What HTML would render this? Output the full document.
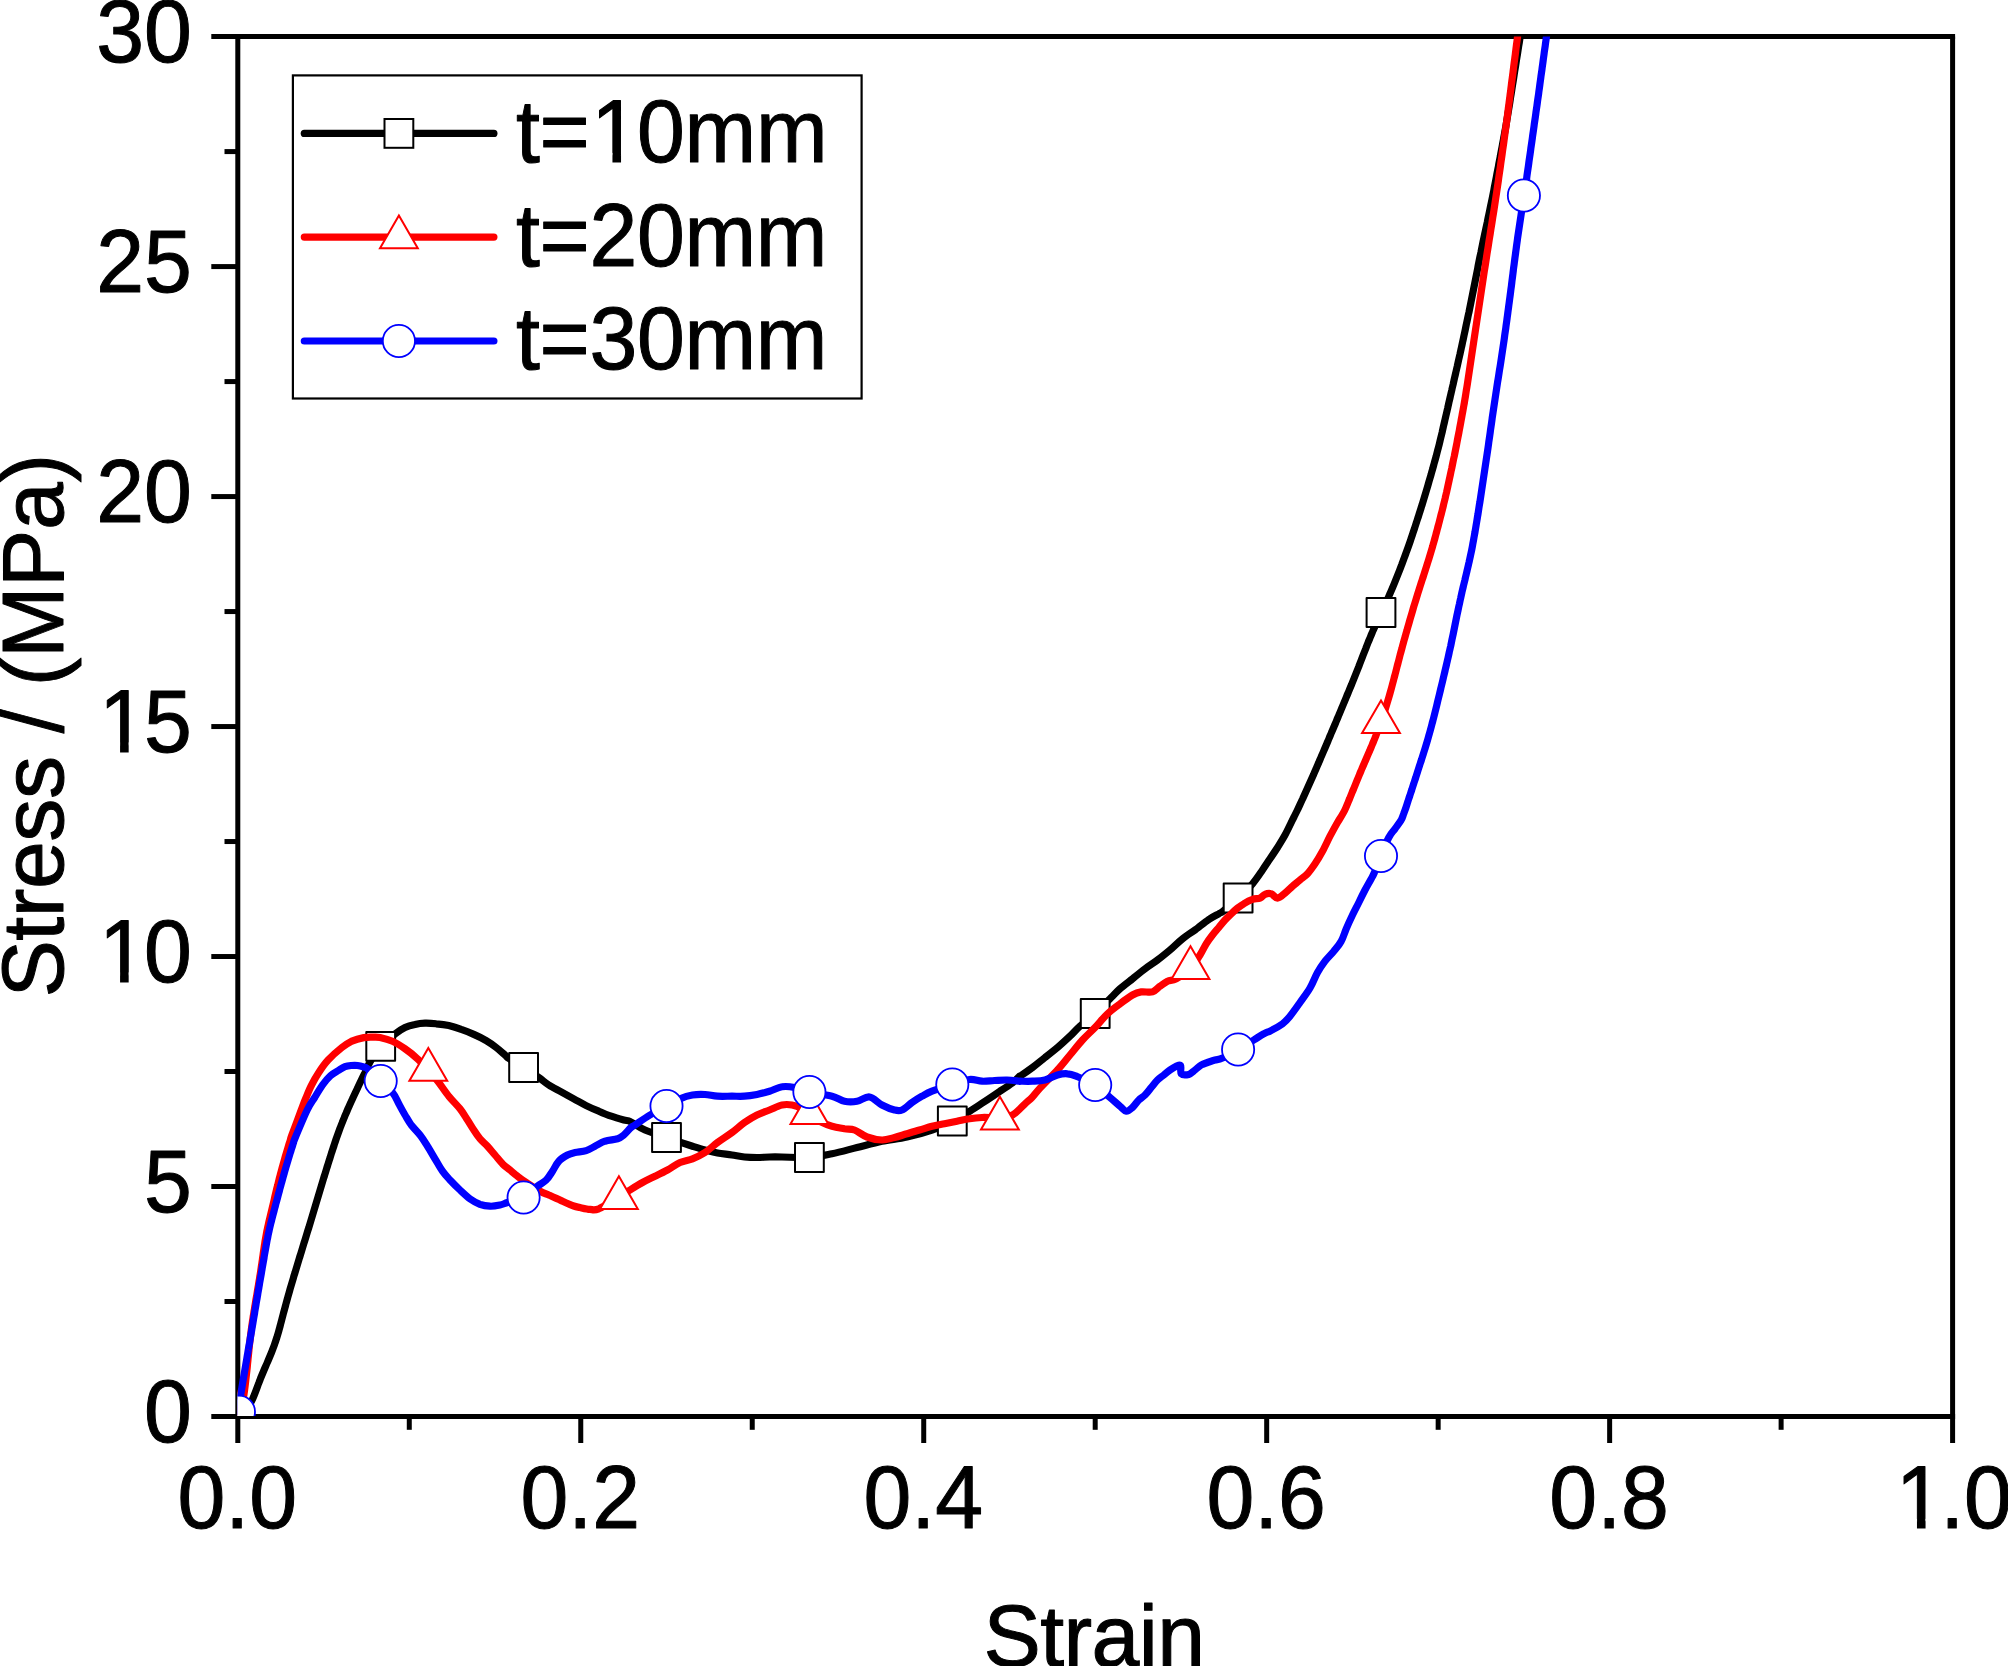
<!DOCTYPE html>
<html lang="en">
<head>
<meta charset="utf-8">
<title>Stress-Strain</title>
<style>
html,body{margin:0;padding:0;background:#fff;}
body{width:2008px;height:1666px;overflow:hidden;}
svg{display:block;}
text{font-family:"Liberation Sans",sans-serif;font-size:86px;fill:#000;stroke:#000;stroke-width:1.0px;stroke-linejoin:round;}
</style>
</head>
<body>
<svg width="2008" height="1666" viewBox="0 0 2008 1666">
<rect x="0" y="0" width="2008" height="1666" fill="#fff"/>
<defs><clipPath id="plot"><rect x="237.6" y="36.6" width="1715.0" height="1379.4"/></clipPath></defs>

<g stroke="#000" stroke-width="5.0" fill="none" stroke-linecap="butt">
<line x1="211.3" y1="36.6" x2="1955.1" y2="36.6"/>
<line x1="211.3" y1="1416.5" x2="1955.1" y2="1416.5"/>
<line x1="237.8" y1="36.6" x2="237.8" y2="1443.0"/>
<line x1="1952.6" y1="36.6" x2="1952.6" y2="1443.0"/>
<line x1="409.28" y1="1416.5" x2="409.28" y2="1429.8"/>
<line x1="580.76" y1="1416.5" x2="580.76" y2="1443.0"/>
<line x1="752.24" y1="1416.5" x2="752.24" y2="1429.8"/>
<line x1="923.72" y1="1416.5" x2="923.72" y2="1443.0"/>
<line x1="1095.20" y1="1416.5" x2="1095.20" y2="1429.8"/>
<line x1="1266.68" y1="1416.5" x2="1266.68" y2="1443.0"/>
<line x1="1438.16" y1="1416.5" x2="1438.16" y2="1429.8"/>
<line x1="1609.64" y1="1416.5" x2="1609.64" y2="1443.0"/>
<line x1="1781.12" y1="1416.5" x2="1781.12" y2="1429.8"/>
<line x1="224.5" y1="1301.51" x2="237.8" y2="1301.51"/>
<line x1="211.3" y1="1186.52" x2="237.8" y2="1186.52"/>
<line x1="224.5" y1="1071.52" x2="237.8" y2="1071.52"/>
<line x1="211.3" y1="956.53" x2="237.8" y2="956.53"/>
<line x1="224.5" y1="841.54" x2="237.8" y2="841.54"/>
<line x1="211.3" y1="726.55" x2="237.8" y2="726.55"/>
<line x1="224.5" y1="611.56" x2="237.8" y2="611.56"/>
<line x1="211.3" y1="496.57" x2="237.8" y2="496.57"/>
<line x1="224.5" y1="381.58" x2="237.8" y2="381.58"/>
<line x1="211.3" y1="266.58" x2="237.8" y2="266.58"/>
<line x1="224.5" y1="151.59" x2="237.8" y2="151.59"/>
</g>
<g clip-path="url(#plot)" fill="none" stroke-linejoin="round" stroke-linecap="round">
<path d="M242.5,1416.0 C244.1,1413.4 249.2,1406.0 251.9,1400.5 C254.6,1395.0 257.3,1386.8 258.8,1383.0 C260.2,1379.2 260.1,1379.7 260.7,1378.0 C261.4,1376.3 262.1,1374.7 262.8,1373.0 C263.5,1371.3 264.2,1369.7 264.9,1368.0 C265.6,1366.3 266.4,1364.7 267.1,1363.0 C267.8,1361.3 268.5,1359.7 269.2,1358.0 C269.9,1356.3 270.6,1354.7 271.3,1353.0 C272.0,1351.3 272.6,1349.7 273.2,1348.0 C273.9,1346.3 274.5,1344.7 275.0,1343.0 C275.6,1341.3 276.1,1339.7 276.7,1338.0 C277.2,1336.3 277.7,1334.7 278.2,1333.0 C278.7,1331.3 279.1,1329.7 279.6,1328.0 C280.0,1326.3 280.5,1324.7 280.9,1323.0 C281.4,1321.3 281.8,1319.7 282.2,1318.0 C282.7,1316.3 283.1,1314.7 283.5,1313.0 C284.0,1311.3 284.4,1309.7 284.9,1308.0 C285.3,1306.3 285.8,1304.7 286.2,1303.0 C286.7,1301.3 287.1,1299.7 287.6,1298.0 C288.0,1296.3 288.5,1294.7 289.0,1293.0 C289.5,1291.3 289.9,1289.7 290.4,1288.0 C290.9,1286.3 291.4,1284.7 291.9,1283.0 C292.4,1281.3 292.9,1279.7 293.4,1278.0 C293.8,1276.3 294.3,1274.7 294.9,1273.0 C295.4,1271.3 295.9,1269.7 296.4,1268.0 C296.9,1266.3 297.4,1264.7 297.9,1263.0 C298.4,1261.3 298.9,1259.7 299.4,1258.0 C299.9,1256.3 300.5,1254.7 301.0,1253.0 C301.5,1251.3 302.0,1249.7 302.5,1248.0 C303.0,1246.3 303.5,1244.7 304.0,1243.0 C304.6,1241.3 305.1,1239.7 305.6,1238.0 C306.1,1236.3 306.6,1234.7 307.1,1233.0 C307.6,1231.3 308.1,1229.7 308.7,1228.0 C309.2,1226.3 309.7,1224.7 310.2,1223.0 C310.7,1221.3 311.2,1219.7 311.7,1218.0 C312.2,1216.3 312.7,1214.7 313.2,1213.0 C313.7,1211.3 314.2,1209.7 314.7,1208.0 C315.2,1206.3 315.7,1204.7 316.2,1203.0 C316.7,1201.3 317.2,1199.7 317.7,1198.0 C318.2,1196.3 318.7,1194.7 319.2,1193.0 C319.7,1191.3 320.2,1189.7 320.7,1188.0 C321.2,1186.3 321.7,1184.7 322.2,1183.0 C322.7,1181.3 323.2,1179.7 323.7,1178.0 C324.2,1176.3 324.8,1174.7 325.3,1173.0 C325.8,1171.3 326.3,1169.7 326.8,1168.0 C327.3,1166.3 327.9,1164.7 328.4,1163.0 C328.9,1161.3 329.4,1159.7 330.0,1158.0 C330.5,1156.3 331.0,1154.7 331.5,1153.0 C332.1,1151.3 332.6,1149.7 333.2,1148.0 C333.7,1146.3 334.3,1144.7 334.8,1143.0 C335.4,1141.3 335.9,1139.7 336.5,1138.0 C337.1,1136.3 337.7,1134.7 338.3,1133.0 C338.9,1131.3 339.5,1129.7 340.1,1128.0 C340.8,1126.3 341.4,1124.7 342.1,1123.0 C342.7,1121.3 343.4,1119.7 344.1,1118.0 C344.7,1116.3 345.4,1114.7 346.2,1113.0 C346.9,1111.3 347.6,1109.7 348.3,1108.0 C349.1,1106.3 349.8,1104.7 350.6,1103.0 C351.3,1101.3 352.1,1099.7 352.9,1098.0 C353.6,1096.3 354.4,1094.7 355.2,1093.0 C356.0,1091.3 356.8,1089.7 357.6,1088.0 C358.3,1086.3 359.1,1084.7 359.9,1083.0 C360.7,1081.3 361.5,1079.7 362.3,1078.0 C363.1,1076.3 363.6,1075.5 364.8,1073.0 C365.9,1070.5 366.8,1067.6 369.4,1063.1 C372.0,1058.6 375.8,1051.2 380.2,1046.2 C384.7,1041.3 392.1,1036.2 396.2,1033.1 C400.4,1030.0 401.9,1029.0 405.0,1027.5 C408.1,1026.0 411.7,1025.1 415.0,1024.4 C418.3,1023.6 421.5,1023.2 425.0,1023.1 C428.5,1023.0 432.3,1023.3 436.2,1023.8 C440.2,1024.2 444.6,1024.7 448.8,1025.6 C452.9,1026.6 457.1,1027.9 461.2,1029.4 C465.4,1030.8 469.6,1032.5 473.8,1034.4 C477.9,1036.2 482.5,1038.4 486.2,1040.6 C490.0,1042.8 493.1,1045.1 496.2,1047.5 C499.4,1049.9 502.8,1053.1 505.0,1055.0 C507.2,1056.9 506.2,1056.7 509.4,1058.8 C512.5,1060.8 518.9,1064.4 523.8,1067.5 C528.6,1070.6 534.6,1074.6 538.8,1077.5 C542.9,1080.4 545.0,1082.6 548.8,1085.0 C552.5,1087.4 557.1,1089.6 561.2,1091.9 C565.4,1094.2 569.6,1096.5 573.8,1098.8 C577.9,1101.0 582.1,1103.5 586.2,1105.6 C590.4,1107.7 594.6,1109.5 598.8,1111.2 C602.9,1113.0 607.1,1114.8 611.2,1116.2 C615.4,1117.7 620.5,1119.1 623.8,1120.0 C627.0,1120.9 627.5,1120.2 631.0,1121.9 C634.5,1123.5 639.1,1127.4 645.0,1130.0 C650.9,1132.6 658.3,1134.8 666.2,1137.5 C674.2,1140.2 686.0,1144.2 692.5,1146.2 C699.0,1148.3 700.8,1148.9 705.0,1150.0 C709.2,1151.1 713.0,1152.2 717.5,1153.0 C722.0,1153.8 727.5,1154.3 732.0,1155.0 C736.5,1155.7 740.3,1156.6 744.5,1157.0 C748.7,1157.4 752.8,1157.5 757.0,1157.5 C761.2,1157.5 765.3,1157.1 769.5,1157.0 C773.7,1156.9 775.4,1156.9 782.0,1157.0 C788.6,1157.1 800.7,1158.0 809.0,1157.5 C817.3,1157.0 824.0,1155.4 832.0,1153.8 C840.0,1152.1 848.7,1149.6 857.0,1147.5 C865.3,1145.4 873.7,1143.0 882.0,1141.2 C890.3,1139.5 898.7,1138.9 907.0,1137.0 C915.3,1135.1 924.5,1132.6 932.0,1130.0 C939.5,1127.4 946.1,1124.2 952.0,1121.2 C957.9,1118.3 962.6,1115.4 967.5,1112.5 C972.4,1109.6 975.8,1107.3 981.2,1103.8 C986.7,1100.2 994.8,1094.8 1000.0,1091.2 C1005.2,1087.8 1009.2,1085.2 1012.5,1082.8 C1015.8,1080.2 1018.2,1077.3 1019.5,1076.2 C1020.8,1075.2 1017.8,1077.7 1020.0,1076.2 C1022.2,1074.8 1028.3,1070.6 1032.5,1067.5 C1036.7,1064.4 1040.8,1060.8 1045.0,1057.5 C1049.2,1054.2 1053.3,1051.0 1057.5,1047.5 C1061.7,1044.0 1066.2,1039.8 1070.0,1036.2 C1073.8,1032.7 1075.8,1030.0 1080.0,1026.2 C1084.2,1022.5 1089.8,1018.5 1095.0,1013.8 C1100.2,1009.0 1107.1,1001.7 1111.2,997.5 C1115.4,993.3 1116.5,991.9 1120.0,988.8 C1123.5,985.6 1128.3,982.1 1132.5,978.8 C1136.7,975.4 1140.8,971.9 1145.0,968.8 C1149.2,965.6 1153.3,963.1 1157.5,960.0 C1161.7,956.9 1165.8,953.5 1170.0,950.0 C1174.2,946.5 1178.3,942.1 1182.5,938.8 C1186.7,935.4 1192.1,932.1 1195.0,930.0 C1197.9,927.9 1197.5,928.1 1200.0,926.2 C1202.5,924.4 1206.9,920.8 1210.0,918.8 C1213.1,916.7 1216.5,915.1 1218.8,913.8 C1221.0,912.4 1220.6,913.2 1223.8,910.6 C1226.9,908.1 1233.1,903.0 1237.9,898.5 C1242.7,894.0 1248.4,888.5 1252.5,883.8 C1256.6,879.0 1259.6,874.2 1262.5,870.0 C1265.4,865.8 1267.5,862.5 1270.0,858.8 C1272.5,855.0 1275.0,851.5 1277.5,847.5 C1280.0,843.5 1282.7,839.2 1285.0,835.0 C1287.3,830.8 1289.7,825.6 1291.2,822.5 C1292.8,819.4 1293.3,818.5 1294.2,816.5 C1295.2,814.5 1296.2,812.5 1297.2,810.5 C1298.2,808.5 1299.1,806.5 1300.0,804.5 C1300.9,802.5 1301.8,800.5 1302.8,798.5 C1303.7,796.5 1304.6,794.5 1305.5,792.5 C1306.4,790.5 1307.3,788.5 1308.2,786.5 C1309.1,784.5 1310.0,782.5 1310.9,780.5 C1311.8,778.5 1312.7,776.5 1313.6,774.5 C1314.4,772.5 1315.3,770.5 1316.2,768.5 C1317.0,766.5 1317.9,764.5 1318.8,762.5 C1319.6,760.5 1320.5,758.5 1321.3,756.5 C1322.2,754.5 1323.1,752.5 1323.9,750.5 C1324.8,748.5 1325.6,746.5 1326.5,744.5 C1327.3,742.5 1328.2,740.5 1329.0,738.5 C1329.8,736.5 1330.7,734.5 1331.5,732.5 C1332.4,730.5 1333.2,728.5 1334.1,726.5 C1334.9,724.5 1335.8,722.5 1336.6,720.5 C1337.4,718.5 1338.3,716.5 1339.1,714.5 C1340.0,712.5 1340.8,710.5 1341.6,708.5 C1342.5,706.5 1343.3,704.5 1344.1,702.5 C1345.0,700.5 1345.8,698.5 1346.6,696.5 C1347.4,694.5 1348.3,692.5 1349.1,690.5 C1349.9,688.5 1350.7,686.5 1351.6,684.5 C1352.4,682.5 1353.2,680.5 1354.0,678.5 C1354.8,676.5 1355.6,674.5 1356.4,672.5 C1357.2,670.5 1358.0,668.5 1358.8,666.5 C1359.5,664.5 1360.3,662.5 1361.1,660.5 C1361.9,658.5 1362.6,656.5 1363.4,654.5 C1364.2,652.5 1365.0,650.5 1365.8,648.5 C1366.5,646.5 1367.3,644.5 1368.1,642.5 C1368.9,640.5 1369.8,638.5 1370.6,636.5 C1371.4,634.5 1372.3,632.5 1373.1,630.5 C1374.0,628.5 1374.9,626.5 1375.8,624.5 C1376.7,622.5 1377.6,620.5 1378.6,618.5 C1379.5,616.5 1380.4,614.5 1381.4,612.5 C1382.3,610.5 1383.2,608.5 1384.2,606.5 C1385.1,604.5 1386.0,602.5 1386.9,600.5 C1387.9,598.5 1388.8,596.5 1389.6,594.5 C1390.5,592.5 1391.4,590.5 1392.2,588.5 C1393.1,586.5 1393.9,584.5 1394.7,582.5 C1395.5,580.5 1396.3,578.5 1397.1,576.5 C1397.9,574.5 1398.7,572.5 1399.5,570.5 C1400.3,568.5 1401.0,566.5 1401.8,564.5 C1402.5,562.5 1403.3,560.5 1404.0,558.5 C1404.8,556.5 1405.5,554.5 1406.2,552.5 C1407.0,550.5 1407.7,548.5 1408.4,546.5 C1409.1,544.5 1409.8,542.5 1410.5,540.5 C1411.1,538.5 1411.8,536.5 1412.5,534.5 C1413.1,532.5 1413.8,530.5 1414.5,528.5 C1415.1,526.5 1415.8,524.5 1416.4,522.5 C1417.1,520.5 1417.7,518.5 1418.4,516.5 C1419.0,514.5 1419.6,512.5 1420.3,510.5 C1420.9,508.5 1421.5,506.5 1422.2,504.5 C1422.8,502.5 1423.4,500.5 1424.0,498.5 C1424.6,496.5 1425.2,494.5 1425.8,492.5 C1426.4,490.5 1427.0,488.5 1427.6,486.5 C1428.2,484.5 1428.7,482.5 1429.3,480.5 C1429.9,478.5 1430.5,476.5 1431.1,474.5 C1431.6,472.5 1432.2,470.5 1432.8,468.5 C1433.3,466.5 1433.9,464.5 1434.4,462.5 C1435.0,460.5 1435.5,458.5 1436.1,456.5 C1436.6,454.5 1437.1,452.5 1437.6,450.5 C1438.2,448.5 1438.7,446.5 1439.2,444.5 C1439.7,442.5 1440.1,440.5 1440.6,438.5 C1441.1,436.5 1441.6,434.5 1442.1,432.5 C1442.5,430.5 1443.0,428.5 1443.4,426.5 C1443.9,424.5 1444.4,422.5 1444.8,420.5 C1445.3,418.5 1445.7,416.5 1446.2,414.5 C1446.7,412.5 1447.1,410.5 1447.6,408.5 C1448.0,406.5 1448.5,404.5 1448.9,402.5 C1449.4,400.5 1449.9,398.5 1450.3,396.5 C1450.8,394.5 1451.2,392.5 1451.7,390.5 C1452.1,388.5 1452.6,386.5 1453.1,384.5 C1453.5,382.5 1454.0,380.5 1454.4,378.5 C1454.9,376.5 1455.4,374.5 1455.8,372.5 C1456.3,370.5 1456.7,368.5 1457.2,366.5 C1457.6,364.5 1458.1,362.5 1458.5,360.5 C1459.0,358.5 1459.4,356.5 1459.9,354.5 C1460.3,352.5 1460.8,350.5 1461.2,348.5 C1461.7,346.5 1462.1,344.5 1462.5,342.5 C1463.0,340.5 1463.4,338.5 1463.8,336.5 C1464.2,334.5 1464.7,332.5 1465.1,330.5 C1465.5,328.5 1465.9,326.5 1466.3,324.5 C1466.8,322.5 1467.2,320.5 1467.6,318.5 C1468.0,316.5 1468.4,314.5 1468.9,312.5 C1469.3,310.5 1469.7,308.5 1470.1,306.5 C1470.5,304.5 1470.9,302.5 1471.3,300.5 C1471.7,298.5 1472.1,296.5 1472.5,294.5 C1472.9,292.5 1473.3,290.5 1473.7,288.5 C1474.1,286.5 1474.5,284.5 1474.9,282.5 C1475.3,280.5 1475.7,278.5 1476.1,276.5 C1476.5,274.5 1476.9,272.5 1477.3,270.5 C1477.7,268.5 1478.0,266.5 1478.4,264.5 C1478.8,262.5 1479.2,260.5 1479.6,258.5 C1480.0,256.5 1480.4,254.5 1480.9,252.5 C1481.3,250.5 1481.7,248.5 1482.1,246.5 C1482.5,244.5 1482.9,242.5 1483.3,240.5 C1483.8,238.5 1484.2,236.5 1484.6,234.5 C1485.0,232.5 1485.5,230.5 1485.9,228.5 C1486.3,226.5 1486.7,224.5 1487.2,222.5 C1487.6,220.5 1488.0,218.5 1488.4,216.5 C1488.9,214.5 1489.3,212.5 1489.7,210.5 C1490.1,208.5 1490.5,206.5 1490.9,204.5 C1491.4,202.5 1491.8,200.5 1492.2,198.5 C1492.6,196.5 1493.0,194.5 1493.4,192.5 C1493.8,190.5 1494.1,188.5 1494.5,186.5 C1494.9,184.5 1495.3,182.5 1495.7,180.5 C1496.1,178.5 1496.5,176.5 1496.8,174.5 C1497.2,172.5 1497.6,170.5 1498.0,168.5 C1498.4,166.5 1498.7,164.5 1499.1,162.5 C1499.5,160.5 1499.9,158.5 1500.3,156.5 C1500.6,154.5 1501.0,152.5 1501.4,150.5 C1501.8,148.5 1502.2,146.5 1502.5,144.5 C1502.9,142.5 1503.3,140.5 1503.6,138.5 C1504.0,136.5 1504.4,134.5 1504.7,132.5 C1505.1,130.5 1505.5,128.5 1505.8,126.5 C1506.2,124.5 1506.5,122.5 1506.8,120.5 C1507.2,118.5 1507.5,116.5 1507.8,114.5 C1508.2,112.5 1508.5,110.5 1508.8,108.5 C1509.2,106.5 1509.5,104.5 1509.8,102.5 C1510.1,100.5 1510.4,98.5 1510.7,96.5 C1511.1,94.5 1511.4,92.5 1511.7,90.5 C1512.0,88.5 1512.3,86.5 1512.6,84.5 C1513.0,82.5 1513.3,80.5 1513.6,78.5 C1513.9,76.5 1514.2,74.5 1514.5,72.5 C1514.8,70.5 1515.2,68.5 1515.5,66.5 C1515.8,64.5 1516.1,62.5 1516.4,60.5 C1516.7,58.5 1517.1,56.5 1517.4,54.5 C1517.7,52.5 1518.0,50.5 1518.3,48.5 C1518.6,46.5 1518.9,44.5 1519.3,42.5 C1519.6,40.5 1519.9,38.5 1520.2,36.5 C1520.5,34.5 1520.8,32.5 1521.2,30.5 C1521.5,28.5 1521.9,25.5 1522.1,24.5" stroke="#000" stroke-width="7.2"/>
<g><rect x="222.9" y="1399.1" width="28.8" height="28.8" fill="#fff" stroke="#000" stroke-width="2.0"/><rect x="366.3" y="1032.0" width="28.8" height="28.8" fill="#fff" stroke="#000" stroke-width="2.0"/><rect x="509.2" y="1053.1" width="28.8" height="28.8" fill="#fff" stroke="#000" stroke-width="2.0"/><rect x="652.1" y="1123.1" width="28.8" height="28.8" fill="#fff" stroke="#000" stroke-width="2.0"/><rect x="795.0" y="1143.1" width="28.8" height="28.8" fill="#fff" stroke="#000" stroke-width="2.0"/><rect x="937.9" y="1106.6" width="28.8" height="28.8" fill="#fff" stroke="#000" stroke-width="2.0"/><rect x="1080.8" y="999.1" width="28.8" height="28.8" fill="#fff" stroke="#000" stroke-width="2.0"/><rect x="1223.7" y="883.6" width="28.8" height="28.8" fill="#fff" stroke="#000" stroke-width="2.0"/><rect x="1366.6" y="598.1" width="28.8" height="28.8" fill="#fff" stroke="#000" stroke-width="2.0"/></g>
<path d="M239.4,1413.0 C240.1,1410.1 242.5,1402.6 243.8,1395.5 C245.0,1388.4 246.3,1375.5 246.9,1370.5 C247.5,1365.5 247.2,1367.2 247.4,1365.5 C247.5,1363.8 247.7,1362.2 247.9,1360.5 C248.0,1358.8 248.2,1357.2 248.4,1355.5 C248.6,1353.8 248.7,1352.2 248.9,1350.5 C249.1,1348.8 249.2,1347.2 249.4,1345.5 C249.6,1343.8 249.8,1342.2 250.0,1340.5 C250.2,1338.8 250.4,1337.2 250.6,1335.5 C250.8,1333.8 251.0,1332.2 251.2,1330.5 C251.4,1328.8 251.7,1327.2 251.9,1325.5 C252.1,1323.8 252.4,1322.2 252.6,1320.5 C252.9,1318.8 253.1,1317.2 253.4,1315.5 C253.7,1313.8 253.9,1312.2 254.2,1310.5 C254.5,1308.8 254.7,1307.2 255.0,1305.5 C255.3,1303.8 255.6,1302.2 255.8,1300.5 C256.1,1298.8 256.4,1297.2 256.7,1295.5 C257.0,1293.8 257.3,1292.2 257.5,1290.5 C257.8,1288.8 258.1,1287.2 258.4,1285.5 C258.6,1283.8 258.9,1282.2 259.2,1280.5 C259.5,1278.8 259.7,1277.2 260.0,1275.5 C260.3,1273.8 260.5,1272.2 260.8,1270.5 C261.0,1268.8 261.3,1267.2 261.5,1265.5 C261.8,1263.8 262.0,1262.2 262.3,1260.5 C262.5,1258.8 262.7,1257.2 263.0,1255.5 C263.2,1253.8 263.4,1252.2 263.7,1250.5 C263.9,1248.8 264.2,1247.2 264.4,1245.5 C264.7,1243.8 264.9,1242.2 265.2,1240.5 C265.5,1238.8 265.8,1237.2 266.1,1235.5 C266.4,1233.8 266.7,1232.2 267.0,1230.5 C267.4,1228.8 267.7,1227.2 268.1,1225.5 C268.5,1223.8 268.8,1222.2 269.2,1220.5 C269.6,1218.8 270.0,1217.2 270.4,1215.5 C270.8,1213.8 271.2,1212.2 271.6,1210.5 C272.0,1208.8 272.4,1207.2 272.8,1205.5 C273.2,1203.8 273.6,1202.2 274.0,1200.5 C274.4,1198.8 274.7,1197.2 275.1,1195.5 C275.5,1193.8 275.9,1192.2 276.3,1190.5 C276.7,1188.8 277.1,1187.2 277.6,1185.5 C278.0,1183.8 278.4,1182.2 278.8,1180.5 C279.2,1178.8 279.6,1177.2 280.1,1175.5 C280.5,1173.8 281.0,1172.2 281.4,1170.5 C281.9,1168.8 282.3,1167.2 282.8,1165.5 C283.2,1163.8 283.7,1162.2 284.2,1160.5 C284.7,1158.8 285.1,1157.2 285.6,1155.5 C286.1,1153.8 286.6,1152.2 287.1,1150.5 C287.6,1148.8 288.1,1147.2 288.6,1145.5 C289.1,1143.8 289.7,1142.2 290.2,1140.5 C290.7,1138.8 289.9,1140.6 291.7,1135.5 C293.6,1130.4 298.9,1116.3 301.2,1110.0 C303.6,1103.7 304.3,1101.7 306.1,1097.5 C307.8,1093.3 309.4,1089.2 311.6,1085.0 C313.7,1080.8 316.0,1076.7 318.8,1072.5 C321.5,1068.3 324.2,1064.2 328.1,1060.0 C332.0,1055.8 338.0,1050.6 341.9,1047.5 C345.8,1044.4 347.6,1043.1 351.2,1041.4 C354.9,1039.8 360.1,1038.3 363.8,1037.6 C367.4,1036.9 370.4,1037.1 373.1,1037.1 C375.8,1037.1 376.8,1036.8 380.0,1037.5 C383.2,1038.2 388.3,1039.4 392.5,1041.2 C396.7,1043.1 400.8,1045.8 405.0,1048.8 C409.2,1051.7 413.6,1055.2 417.5,1058.8 C421.4,1062.3 425.0,1066.0 428.5,1070.0 C432.0,1074.0 435.4,1078.1 438.8,1082.5 C442.1,1086.9 445.2,1091.9 448.8,1096.2 C452.3,1100.6 456.9,1104.8 460.0,1108.8 C463.1,1112.7 465.2,1116.5 467.5,1120.0 C469.8,1123.5 471.7,1126.9 473.8,1130.0 C475.8,1133.1 477.7,1136.0 480.0,1138.8 C482.3,1141.5 485.0,1143.5 487.5,1146.2 C490.0,1149.0 492.5,1152.1 495.0,1155.0 C497.5,1157.9 500.0,1161.2 502.5,1163.8 C505.0,1166.2 507.5,1167.9 510.0,1170.0 C512.5,1172.1 515.4,1174.6 517.5,1176.2 C519.6,1177.9 518.8,1177.5 522.5,1180.0 C526.2,1182.5 535.6,1188.8 540.0,1191.2 C544.4,1193.8 545.2,1193.4 548.8,1195.0 C552.3,1196.6 557.1,1198.8 561.2,1200.6 C565.4,1202.5 570.6,1204.9 573.8,1206.0 C576.9,1207.1 577.3,1206.9 580.0,1207.5 C582.7,1208.1 586.9,1209.2 590.0,1209.4 C593.1,1209.6 594.0,1210.7 598.8,1208.8 C603.5,1206.8 613.5,1200.6 618.8,1197.5 C624.0,1194.4 626.0,1192.5 630.0,1190.0 C634.0,1187.5 638.3,1184.8 642.5,1182.5 C646.7,1180.2 650.8,1178.3 655.0,1176.2 C659.2,1174.2 663.3,1172.3 667.5,1170.0 C671.7,1167.7 675.8,1164.4 680.0,1162.5 C684.2,1160.6 688.3,1160.4 692.5,1158.8 C696.7,1157.1 700.8,1155.2 705.0,1152.5 C709.2,1149.8 713.0,1145.8 717.5,1142.5 C722.0,1139.2 727.5,1135.8 732.0,1132.5 C736.5,1129.2 740.3,1125.4 744.5,1122.5 C748.7,1119.6 752.8,1117.1 757.0,1115.0 C761.2,1112.9 765.3,1111.7 769.5,1110.0 C773.7,1108.3 778.2,1105.8 782.0,1105.0 C785.8,1104.2 788.7,1104.4 792.0,1105.0 C795.3,1105.6 799.2,1107.1 802.0,1108.8 C804.8,1110.4 806.1,1112.9 809.0,1115.0 C811.9,1117.1 815.7,1119.4 819.5,1121.2 C823.3,1123.1 827.8,1125.0 832.0,1126.2 C836.2,1127.5 840.8,1128.1 844.5,1128.8 C848.2,1129.4 850.8,1128.6 854.5,1130.0 C858.2,1131.4 862.4,1135.3 867.0,1137.0 C871.6,1138.7 877.4,1139.9 882.0,1140.0 C886.6,1140.1 890.3,1138.5 894.5,1137.5 C898.7,1136.5 902.8,1135.0 907.0,1133.8 C911.2,1132.5 915.3,1131.2 919.5,1130.0 C923.7,1128.8 927.8,1127.3 932.0,1126.2 C936.2,1125.2 940.3,1124.6 944.5,1123.8 C948.7,1122.9 952.8,1122.1 957.0,1121.2 C961.2,1120.4 965.3,1119.4 969.5,1118.8 C973.7,1118.1 977.0,1117.7 982.0,1117.5 C987.0,1117.3 994.4,1117.9 999.5,1117.5 C1004.6,1117.1 1008.2,1117.3 1012.5,1115.0 C1016.8,1112.7 1021.8,1106.7 1025.0,1103.8 C1028.2,1100.8 1029.5,1100.1 1032.0,1097.5 C1034.5,1094.9 1035.8,1092.7 1040.0,1088.1 C1044.2,1083.5 1052.5,1075.5 1057.5,1070.0 C1062.5,1064.5 1065.8,1060.0 1070.0,1055.0 C1074.2,1050.0 1078.3,1044.6 1082.5,1040.0 C1086.7,1035.4 1090.8,1031.9 1095.0,1027.5 C1099.2,1023.1 1103.3,1017.7 1107.5,1013.8 C1111.7,1009.8 1115.8,1006.9 1120.0,1003.8 C1124.2,1000.6 1129.0,997.0 1132.5,995.0 C1136.0,993.0 1137.9,992.4 1141.2,991.9 C1144.6,991.4 1149.4,992.8 1152.5,991.9 C1155.6,990.9 1157.5,988.0 1160.0,986.2 C1162.5,984.5 1164.8,982.5 1167.5,981.2 C1170.2,980.0 1172.4,980.9 1176.2,978.8 C1180.1,976.6 1186.8,972.1 1190.8,968.1 C1194.7,964.2 1197.4,959.1 1200.0,955.0 C1202.6,950.9 1204.2,947.1 1206.2,943.8 C1208.3,940.4 1210.4,937.7 1212.5,935.0 C1214.6,932.3 1216.7,930.0 1218.8,927.5 C1220.8,925.0 1222.9,922.3 1225.0,920.0 C1227.1,917.7 1229.2,915.7 1231.2,913.8 C1233.3,911.8 1235.4,909.8 1237.5,908.1 C1239.6,906.5 1241.2,905.2 1243.8,903.8 C1246.2,902.3 1249.8,900.3 1252.5,899.4 C1255.2,898.4 1257.9,899.0 1260.0,898.1 C1262.1,897.3 1263.1,895.1 1265.0,894.4 C1266.9,893.6 1269.2,893.1 1271.2,893.8 C1273.3,894.4 1275.2,898.2 1277.5,898.1 C1279.8,898.0 1282.5,895.1 1285.0,893.1 C1287.5,891.1 1290.0,888.4 1292.5,886.2 C1295.0,884.1 1297.5,882.1 1300.0,880.0 C1302.5,877.9 1305.0,876.5 1307.5,873.8 C1310.0,871.0 1312.5,867.5 1315.0,863.8 C1317.5,860.0 1320.0,855.8 1322.5,851.2 C1325.0,846.7 1327.5,841.0 1330.0,836.2 C1332.5,831.5 1335.6,825.8 1337.5,822.5 C1339.4,819.2 1340.0,818.5 1341.2,816.5 C1342.4,814.5 1343.6,812.5 1344.6,810.5 C1345.6,808.5 1346.4,806.5 1347.2,804.5 C1348.1,802.5 1348.8,800.5 1349.7,798.5 C1350.5,796.5 1351.3,794.5 1352.1,792.5 C1352.9,790.5 1353.8,788.5 1354.6,786.5 C1355.4,784.5 1356.2,782.5 1357.0,780.5 C1357.9,778.5 1358.7,776.5 1359.5,774.5 C1360.3,772.5 1361.2,770.5 1362.0,768.5 C1362.9,766.5 1363.7,764.5 1364.6,762.5 C1365.5,760.5 1366.3,758.5 1367.2,756.5 C1368.0,754.5 1368.9,752.5 1369.8,750.5 C1370.6,748.5 1371.5,746.5 1372.3,744.5 C1373.1,742.5 1374.0,740.5 1374.8,738.5 C1375.6,736.5 1376.3,734.5 1377.1,732.5 C1377.9,730.5 1378.6,728.5 1379.4,726.5 C1380.1,724.5 1380.8,722.5 1381.5,720.5 C1382.2,718.5 1382.9,716.5 1383.5,714.5 C1384.2,712.5 1384.8,710.5 1385.5,708.5 C1386.1,706.5 1386.7,704.5 1387.3,702.5 C1387.9,700.5 1388.5,698.5 1389.1,696.5 C1389.7,694.5 1390.2,692.5 1390.8,690.5 C1391.4,688.5 1391.9,686.5 1392.4,684.5 C1393.0,682.5 1393.5,680.5 1394.0,678.5 C1394.5,676.5 1395.1,674.5 1395.6,672.5 C1396.1,670.5 1396.6,668.5 1397.1,666.5 C1397.6,664.5 1398.2,662.5 1398.7,660.5 C1399.2,658.5 1399.7,656.5 1400.2,654.5 C1400.8,652.5 1401.3,650.5 1401.9,648.5 C1402.4,646.5 1402.9,644.5 1403.5,642.5 C1404.0,640.5 1404.6,638.5 1405.2,636.5 C1405.7,634.5 1406.3,632.5 1406.9,630.5 C1407.4,628.5 1408.0,626.5 1408.6,624.5 C1409.2,622.5 1409.7,620.5 1410.3,618.5 C1410.9,616.5 1411.5,614.5 1412.1,612.5 C1412.7,610.5 1413.2,608.5 1413.8,606.5 C1414.4,604.5 1415.1,602.5 1415.7,600.5 C1416.3,598.5 1416.9,596.5 1417.5,594.5 C1418.1,592.5 1418.8,590.5 1419.4,588.5 C1420.0,586.5 1420.7,584.5 1421.3,582.5 C1422.0,580.5 1422.6,578.5 1423.3,576.5 C1423.9,574.5 1424.6,572.5 1425.2,570.5 C1425.8,568.5 1426.5,566.5 1427.1,564.5 C1427.7,562.5 1428.4,560.5 1429.0,558.5 C1429.6,556.5 1430.2,554.5 1430.8,552.5 C1431.4,550.5 1432.0,548.5 1432.6,546.5 C1433.1,544.5 1433.7,542.5 1434.3,540.5 C1434.8,538.5 1435.4,536.5 1435.9,534.5 C1436.4,532.5 1437.0,530.5 1437.5,528.5 C1438.0,526.5 1438.6,524.5 1439.1,522.5 C1439.6,520.5 1440.1,518.5 1440.6,516.5 C1441.1,514.5 1441.7,512.5 1442.2,510.5 C1442.7,508.5 1443.2,506.5 1443.6,504.5 C1444.1,502.5 1444.6,500.5 1445.1,498.5 C1445.5,496.5 1446.0,494.5 1446.5,492.5 C1446.9,490.5 1447.4,488.5 1447.8,486.5 C1448.2,484.5 1448.7,482.5 1449.1,480.5 C1449.5,478.5 1450.0,476.5 1450.4,474.5 C1450.8,472.5 1451.2,470.5 1451.7,468.5 C1452.1,466.5 1452.5,464.5 1452.9,462.5 C1453.3,460.5 1453.7,458.5 1454.2,456.5 C1454.6,454.5 1455.0,452.5 1455.4,450.5 C1455.8,448.5 1456.2,446.5 1456.6,444.5 C1457.0,442.5 1457.3,440.5 1457.7,438.5 C1458.1,436.5 1458.5,434.5 1458.9,432.5 C1459.3,430.5 1459.6,428.5 1460.0,426.5 C1460.4,424.5 1460.8,422.5 1461.1,420.5 C1461.5,418.5 1461.9,416.5 1462.2,414.5 C1462.6,412.5 1463.0,410.5 1463.3,408.5 C1463.7,406.5 1464.0,404.5 1464.4,402.5 C1464.7,400.5 1465.0,398.5 1465.4,396.5 C1465.7,394.5 1466.0,392.5 1466.3,390.5 C1466.7,388.5 1467.0,386.5 1467.3,384.5 C1467.6,382.5 1467.9,380.5 1468.2,378.5 C1468.5,376.5 1468.8,374.5 1469.1,372.5 C1469.4,370.5 1469.7,368.5 1470.0,366.5 C1470.3,364.5 1470.6,362.5 1470.9,360.5 C1471.2,358.5 1471.5,356.5 1471.8,354.5 C1472.1,352.5 1472.4,350.5 1472.7,348.5 C1473.0,346.5 1473.3,344.5 1473.6,342.5 C1473.9,340.5 1474.2,338.5 1474.5,336.5 C1474.8,334.5 1475.1,332.5 1475.4,330.5 C1475.7,328.5 1476.0,326.5 1476.3,324.5 C1476.6,322.5 1476.9,320.5 1477.2,318.5 C1477.5,316.5 1477.8,314.5 1478.1,312.5 C1478.4,310.5 1478.7,308.5 1479.0,306.5 C1479.3,304.5 1479.6,302.5 1479.9,300.5 C1480.2,298.5 1480.5,296.5 1480.8,294.5 C1481.1,292.5 1481.4,290.5 1481.7,288.5 C1482.0,286.5 1482.3,284.5 1482.6,282.5 C1482.9,280.5 1483.2,278.5 1483.5,276.5 C1483.8,274.5 1484.1,272.5 1484.4,270.5 C1484.8,268.5 1485.1,266.5 1485.4,264.5 C1485.7,262.5 1486.0,260.5 1486.3,258.5 C1486.6,256.5 1486.9,254.5 1487.2,252.5 C1487.6,250.5 1487.9,248.5 1488.2,246.5 C1488.5,244.5 1488.8,242.5 1489.1,240.5 C1489.4,238.5 1489.8,236.5 1490.1,234.5 C1490.4,232.5 1490.7,230.5 1491.0,228.5 C1491.4,226.5 1491.7,224.5 1492.0,222.5 C1492.3,220.5 1492.6,218.5 1492.9,216.5 C1493.3,214.5 1493.6,212.5 1493.9,210.5 C1494.2,208.5 1494.5,206.5 1494.8,204.5 C1495.1,202.5 1495.4,200.5 1495.7,198.5 C1496.0,196.5 1496.3,194.5 1496.6,192.5 C1496.9,190.5 1497.2,188.5 1497.5,186.5 C1497.8,184.5 1498.1,182.5 1498.4,180.5 C1498.6,178.5 1498.9,176.5 1499.2,174.5 C1499.5,172.5 1499.8,170.5 1500.1,168.5 C1500.4,166.5 1500.6,164.5 1500.9,162.5 C1501.2,160.5 1501.5,158.5 1501.8,156.5 C1502.1,154.5 1502.3,152.5 1502.6,150.5 C1502.9,148.5 1503.2,146.5 1503.5,144.5 C1503.8,142.5 1504.0,140.5 1504.3,138.5 C1504.6,136.5 1504.9,134.5 1505.1,132.5 C1505.4,130.5 1505.7,128.5 1506.0,126.5 C1506.2,124.5 1506.5,122.5 1506.8,120.5 C1507.0,118.5 1507.3,116.5 1507.6,114.5 C1507.8,112.5 1508.1,110.5 1508.3,108.5 C1508.6,106.5 1508.9,104.5 1509.1,102.5 C1509.4,100.5 1509.6,98.5 1509.9,96.5 C1510.1,94.5 1510.4,92.5 1510.7,90.5 C1510.9,88.5 1511.2,86.5 1511.4,84.5 C1511.7,82.5 1511.9,80.5 1512.2,78.5 C1512.5,76.5 1512.7,74.5 1513.0,72.5 C1513.2,70.5 1513.5,68.5 1513.7,66.5 C1514.0,64.5 1514.2,62.5 1514.5,60.5 C1514.8,58.5 1515.0,56.5 1515.3,54.5 C1515.5,52.5 1515.8,50.5 1516.0,48.5 C1516.3,46.5 1516.5,44.5 1516.8,42.5 C1517.1,40.5 1517.3,38.5 1517.6,36.5 C1517.8,34.5 1518.1,32.5 1518.3,30.5 C1518.6,28.5 1519.0,25.5 1519.1,24.5" stroke="#f00" stroke-width="7.2"/>
<g><polygon points="238.5,1390.2 219.6,1422.9 257.4,1422.9" fill="#fff" stroke="#f00" stroke-width="2.0" stroke-linejoin="miter"/><polygon points="428.3,1048.0 409.4,1080.7 447.2,1080.7" fill="#fff" stroke="#f00" stroke-width="2.0" stroke-linejoin="miter"/><polygon points="618.9,1176.2 600.0,1208.9 637.8,1208.9" fill="#fff" stroke="#f00" stroke-width="2.0" stroke-linejoin="miter"/><polygon points="809.4,1091.2 790.5,1123.9 828.3,1123.9" fill="#fff" stroke="#f00" stroke-width="2.0" stroke-linejoin="miter"/><polygon points="999.9,1096.7 981.0,1129.4 1018.8,1129.4" fill="#fff" stroke="#f00" stroke-width="2.0" stroke-linejoin="miter"/><polygon points="1190.5,946.2 1171.6,978.9 1209.4,978.9" fill="#fff" stroke="#f00" stroke-width="2.0" stroke-linejoin="miter"/><polygon points="1381.0,700.4 1362.1,733.1 1399.9,733.1" fill="#fff" stroke="#f00" stroke-width="2.0" stroke-linejoin="miter"/></g>
<path d="M238.9,1411.8 C239.2,1409.0 239.3,1404.5 240.6,1395.5 C242.0,1386.5 245.7,1365.1 246.9,1358.0 C248.1,1350.9 247.5,1354.7 247.8,1353.0 C248.0,1351.3 248.3,1349.7 248.6,1348.0 C248.9,1346.3 249.2,1344.7 249.5,1343.0 C249.8,1341.3 250.1,1339.7 250.3,1338.0 C250.6,1336.3 250.9,1334.7 251.2,1333.0 C251.5,1331.3 251.8,1329.7 252.0,1328.0 C252.3,1326.3 252.6,1324.7 252.9,1323.0 C253.2,1321.3 253.4,1319.7 253.7,1318.0 C254.0,1316.3 254.3,1314.7 254.6,1313.0 C254.8,1311.3 255.1,1309.7 255.4,1308.0 C255.7,1306.3 256.0,1304.7 256.2,1303.0 C256.5,1301.3 256.8,1299.7 257.1,1298.0 C257.4,1296.3 257.7,1294.7 257.9,1293.0 C258.2,1291.3 258.5,1289.7 258.8,1288.0 C259.1,1286.3 259.4,1284.7 259.6,1283.0 C259.9,1281.3 260.2,1279.7 260.5,1278.0 C260.8,1276.3 261.1,1274.7 261.4,1273.0 C261.7,1271.3 262.0,1269.7 262.2,1268.0 C262.5,1266.3 262.8,1264.7 263.1,1263.0 C263.4,1261.3 263.7,1259.7 264.0,1258.0 C264.2,1256.3 264.5,1254.7 264.8,1253.0 C265.1,1251.3 265.4,1249.7 265.7,1248.0 C266.0,1246.3 266.3,1244.7 266.6,1243.0 C266.9,1241.3 267.2,1239.7 267.6,1238.0 C267.9,1236.3 268.2,1234.7 268.6,1233.0 C269.0,1231.3 269.3,1229.7 269.7,1228.0 C270.1,1226.3 270.5,1224.7 270.9,1223.0 C271.3,1221.3 271.8,1219.7 272.2,1218.0 C272.6,1216.3 273.0,1214.7 273.5,1213.0 C273.9,1211.3 274.4,1209.7 274.8,1208.0 C275.2,1206.3 275.7,1204.7 276.1,1203.0 C276.6,1201.3 277.0,1199.7 277.5,1198.0 C277.9,1196.3 278.3,1194.7 278.8,1193.0 C279.2,1191.3 279.7,1189.7 280.1,1188.0 C280.6,1186.3 281.0,1184.7 281.5,1183.0 C282.0,1181.3 282.4,1179.7 282.9,1178.0 C283.3,1176.3 283.8,1174.7 284.3,1173.0 C284.7,1171.3 285.2,1169.7 285.7,1168.0 C286.2,1166.3 286.7,1164.7 287.2,1163.0 C287.7,1161.3 288.2,1159.7 288.7,1158.0 C289.2,1156.3 289.7,1154.7 290.2,1153.0 C290.7,1151.3 291.3,1149.7 291.8,1148.0 C292.3,1146.3 292.9,1144.7 293.4,1143.0 C294.0,1141.3 292.8,1143.5 295.1,1138.0 C297.4,1132.5 303.9,1116.8 307.2,1110.0 C310.5,1103.2 312.1,1101.7 314.7,1097.5 C317.2,1093.3 319.9,1088.7 322.5,1085.0 C325.1,1081.3 327.9,1078.0 330.6,1075.6 C333.3,1073.1 336.4,1071.8 338.8,1070.3 C341.1,1068.8 342.9,1067.5 345.0,1066.7 C347.1,1065.9 349.2,1065.7 351.2,1065.5 C353.3,1065.3 355.4,1065.2 357.5,1065.5 C359.6,1065.8 362.1,1066.5 363.8,1067.0 C365.4,1067.5 364.8,1066.4 367.5,1068.8 C370.2,1071.1 376.1,1077.0 380.2,1081.0 C384.4,1085.0 389.4,1088.7 392.5,1092.5 C395.6,1096.3 396.7,1100.0 398.8,1103.8 C400.8,1107.5 402.9,1111.5 405.0,1115.0 C407.1,1118.5 408.8,1121.7 411.2,1125.0 C413.8,1128.3 417.3,1131.5 420.0,1135.0 C422.7,1138.5 425.0,1142.3 427.5,1146.2 C430.0,1150.2 432.5,1154.6 435.0,1158.8 C437.5,1162.9 440.0,1167.7 442.5,1171.2 C445.0,1174.8 447.1,1176.9 450.0,1180.0 C452.9,1183.1 456.7,1186.9 460.0,1190.0 C463.3,1193.1 466.7,1196.4 470.0,1198.8 C473.3,1201.1 476.7,1203.1 480.0,1204.4 C483.3,1205.6 486.7,1206.1 490.0,1206.2 C493.3,1206.4 497.1,1205.6 500.0,1205.0 C502.9,1204.4 503.6,1203.8 507.5,1202.5 C511.4,1201.2 518.4,1200.2 523.4,1197.5 C528.4,1194.8 533.7,1189.2 537.5,1186.2 C541.3,1183.3 543.8,1182.5 546.2,1180.0 C548.8,1177.5 550.4,1174.4 552.5,1171.2 C554.6,1168.1 556.2,1164.0 558.8,1161.2 C561.2,1158.5 564.8,1156.5 567.5,1155.0 C570.2,1153.5 571.9,1153.2 575.0,1152.5 C578.1,1151.8 582.9,1151.7 586.2,1150.6 C589.6,1149.6 591.9,1147.8 595.0,1146.2 C598.1,1144.7 601.2,1142.5 605.0,1141.2 C608.8,1140.0 614.4,1139.8 617.5,1138.8 C620.6,1137.7 621.5,1136.9 623.8,1135.0 C626.0,1133.1 629.1,1129.2 631.0,1127.5 C632.9,1125.8 631.8,1127.1 635.0,1125.0 C638.2,1122.9 644.8,1118.1 650.0,1115.0 C655.2,1111.9 661.2,1109.0 666.2,1106.2 C671.2,1103.5 675.6,1100.6 680.0,1098.8 C684.4,1096.9 688.3,1095.7 692.5,1095.0 C696.7,1094.3 700.8,1094.3 705.0,1094.5 C709.2,1094.7 713.0,1096.0 717.5,1096.2 C722.0,1096.5 727.5,1096.2 732.0,1096.2 C736.5,1096.2 740.3,1096.5 744.5,1096.2 C748.7,1096.0 752.8,1095.3 757.0,1094.5 C761.2,1093.7 765.3,1092.5 769.5,1091.2 C773.7,1090.0 777.8,1087.4 782.0,1086.8 C786.2,1086.1 790.0,1086.6 794.5,1087.5 C799.0,1088.4 802.8,1090.5 809.0,1092.0 C815.2,1093.5 826.1,1094.7 832.0,1096.2 C837.9,1097.8 840.3,1100.4 844.5,1101.2 C848.7,1102.1 852.8,1102.0 857.0,1101.2 C861.2,1100.5 865.3,1096.4 869.5,1097.0 C873.7,1097.6 877.8,1102.8 882.0,1105.0 C886.2,1107.2 891.2,1109.2 894.5,1110.0 C897.8,1110.8 899.1,1111.2 902.0,1110.0 C904.9,1108.8 908.7,1104.8 912.0,1102.5 C915.3,1100.2 918.7,1098.1 922.0,1096.2 C925.3,1094.4 927.0,1093.2 932.0,1091.2 C937.0,1089.3 945.8,1086.5 952.0,1084.5 C958.2,1082.5 964.5,1080.0 969.5,1079.5 C974.5,1079.0 977.8,1081.1 982.0,1081.2 C986.2,1081.4 990.3,1080.7 994.5,1080.5 C998.7,1080.3 1002.8,1079.9 1007.0,1080.0 C1011.2,1080.1 1017.3,1081.0 1019.5,1081.2 C1021.7,1081.5 1017.8,1081.2 1020.0,1081.2 C1022.2,1081.2 1028.3,1081.5 1032.5,1081.2 C1036.7,1081.0 1040.8,1081.0 1045.0,1080.0 C1049.2,1079.0 1053.8,1076.0 1057.5,1075.0 C1061.2,1074.0 1064.4,1073.5 1067.5,1073.8 C1070.6,1074.0 1071.7,1074.4 1076.2,1076.2 C1080.8,1078.1 1089.4,1081.5 1095.0,1085.0 C1100.6,1088.5 1105.8,1094.0 1110.0,1097.5 C1114.2,1101.0 1117.3,1104.0 1120.0,1106.2 C1122.7,1108.5 1124.2,1111.0 1126.2,1111.2 C1128.3,1111.5 1130.4,1109.4 1132.5,1107.5 C1134.6,1105.6 1136.7,1102.1 1138.8,1100.0 C1140.8,1097.9 1142.9,1097.1 1145.0,1095.0 C1147.1,1092.9 1149.2,1090.0 1151.2,1087.5 C1153.3,1085.0 1155.4,1082.1 1157.5,1080.0 C1159.6,1077.9 1161.7,1076.7 1163.8,1075.0 C1165.8,1073.3 1167.9,1071.5 1170.0,1070.0 C1172.1,1068.5 1174.5,1067.0 1176.2,1066.2 C1178.0,1065.5 1179.8,1064.4 1180.6,1065.6 C1181.5,1066.9 1179.9,1072.3 1181.2,1073.8 C1182.6,1075.2 1186.5,1075.0 1188.8,1074.4 C1191.0,1073.8 1192.9,1071.6 1195.0,1070.0 C1197.1,1068.4 1199.2,1066.2 1201.2,1065.0 C1203.3,1063.8 1205.2,1063.3 1207.5,1062.5 C1209.8,1061.7 1212.5,1060.7 1215.0,1060.0 C1217.5,1059.3 1218.6,1059.9 1222.5,1058.1 C1226.4,1056.4 1232.9,1052.4 1238.1,1049.4 C1243.3,1046.4 1249.5,1042.6 1253.8,1040.0 C1258.0,1037.4 1260.9,1035.3 1263.8,1033.8 C1266.6,1032.2 1267.9,1032.3 1271.0,1030.6 C1274.1,1029.0 1279.3,1026.1 1282.5,1023.8 C1285.7,1021.4 1287.1,1019.8 1290.0,1016.2 C1292.9,1012.7 1296.7,1007.2 1300.0,1002.5 C1303.3,997.8 1307.1,993.0 1310.0,988.0 C1312.9,983.0 1315.0,977.0 1317.5,972.5 C1320.0,968.0 1322.3,964.8 1325.0,961.2 C1327.7,957.7 1331.0,954.6 1333.8,951.2 C1336.5,947.9 1339.2,945.0 1341.2,941.2 C1343.3,937.5 1344.4,933.1 1346.2,928.8 C1348.1,924.4 1350.4,919.4 1352.5,915.0 C1354.6,910.6 1356.7,906.7 1358.8,902.5 C1360.8,898.3 1362.9,894.0 1365.0,890.0 C1367.1,886.0 1369.7,881.7 1371.2,878.8 C1372.8,875.8 1372.8,876.3 1374.4,872.5 C1375.9,868.7 1378.2,861.8 1380.6,856.0 C1383.0,850.2 1386.4,842.0 1388.8,837.5 C1391.1,833.0 1392.9,831.7 1395.0,828.8 C1397.1,825.8 1399.8,822.5 1401.2,820.0 C1402.7,817.5 1402.8,816.0 1403.6,814.0 C1404.3,812.0 1405.1,810.0 1405.8,808.0 C1406.5,806.0 1407.1,804.0 1407.7,802.0 C1408.4,800.0 1409.0,798.0 1409.7,796.0 C1410.4,794.0 1411.0,792.0 1411.7,790.0 C1412.3,788.0 1413.0,786.0 1413.6,784.0 C1414.3,782.0 1414.9,780.0 1415.6,778.0 C1416.2,776.0 1416.9,774.0 1417.5,772.0 C1418.1,770.0 1418.8,768.0 1419.4,766.0 C1420.1,764.0 1420.7,762.0 1421.4,760.0 C1422.0,758.0 1422.7,756.0 1423.3,754.0 C1423.9,752.0 1424.6,750.0 1425.2,748.0 C1425.8,746.0 1426.4,744.0 1427.0,742.0 C1427.6,740.0 1428.2,738.0 1428.7,736.0 C1429.3,734.0 1429.9,732.0 1430.4,730.0 C1431.0,728.0 1431.5,726.0 1432.0,724.0 C1432.5,722.0 1433.1,720.0 1433.6,718.0 C1434.1,716.0 1434.6,714.0 1435.1,712.0 C1435.6,710.0 1436.1,708.0 1436.6,706.0 C1437.1,704.0 1437.5,702.0 1438.0,700.0 C1438.5,698.0 1439.0,696.0 1439.5,694.0 C1440.0,692.0 1440.5,690.0 1440.9,688.0 C1441.4,686.0 1441.9,684.0 1442.4,682.0 C1442.9,680.0 1443.3,678.0 1443.8,676.0 C1444.3,674.0 1444.8,672.0 1445.2,670.0 C1445.7,668.0 1446.2,666.0 1446.6,664.0 C1447.1,662.0 1447.5,660.0 1448.0,658.0 C1448.5,656.0 1448.9,654.0 1449.3,652.0 C1449.8,650.0 1450.2,648.0 1450.7,646.0 C1451.1,644.0 1451.5,642.0 1451.9,640.0 C1452.3,638.0 1452.8,636.0 1453.2,634.0 C1453.6,632.0 1454.0,630.0 1454.4,628.0 C1454.8,626.0 1455.2,624.0 1455.6,622.0 C1456.0,620.0 1456.4,618.0 1456.8,616.0 C1457.2,614.0 1457.7,612.0 1458.1,610.0 C1458.5,608.0 1458.9,606.0 1459.4,604.0 C1459.8,602.0 1460.2,600.0 1460.7,598.0 C1461.1,596.0 1461.6,594.0 1462.0,592.0 C1462.5,590.0 1463.0,588.0 1463.4,586.0 C1463.9,584.0 1464.4,582.0 1464.9,580.0 C1465.3,578.0 1465.8,576.0 1466.3,574.0 C1466.8,572.0 1467.2,570.0 1467.7,568.0 C1468.2,566.0 1468.6,564.0 1469.1,562.0 C1469.5,560.0 1470.0,558.0 1470.4,556.0 C1470.8,554.0 1471.3,552.0 1471.7,550.0 C1472.1,548.0 1472.5,546.0 1472.8,544.0 C1473.2,542.0 1473.6,540.0 1473.9,538.0 C1474.3,536.0 1474.6,534.0 1475.0,532.0 C1475.3,530.0 1475.7,528.0 1476.0,526.0 C1476.3,524.0 1476.7,522.0 1477.0,520.0 C1477.3,518.0 1477.6,516.0 1478.0,514.0 C1478.3,512.0 1478.6,510.0 1478.9,508.0 C1479.2,506.0 1479.5,504.0 1479.9,502.0 C1480.2,500.0 1480.5,498.0 1480.8,496.0 C1481.1,494.0 1481.4,492.0 1481.7,490.0 C1482.0,488.0 1482.3,486.0 1482.6,484.0 C1482.9,482.0 1483.2,480.0 1483.5,478.0 C1483.8,476.0 1484.1,474.0 1484.4,472.0 C1484.7,470.0 1485.0,468.0 1485.3,466.0 C1485.6,464.0 1485.9,462.0 1486.2,460.0 C1486.5,458.0 1486.8,456.0 1487.1,454.0 C1487.4,452.0 1487.7,450.0 1488.0,448.0 C1488.3,446.0 1488.6,444.0 1488.8,442.0 C1489.1,440.0 1489.4,438.0 1489.7,436.0 C1490.0,434.0 1490.3,432.0 1490.5,430.0 C1490.8,428.0 1491.1,426.0 1491.4,424.0 C1491.7,422.0 1492.0,420.0 1492.2,418.0 C1492.5,416.0 1492.8,414.0 1493.1,412.0 C1493.4,410.0 1493.7,408.0 1494.0,406.0 C1494.3,404.0 1494.6,402.0 1494.9,400.0 C1495.2,398.0 1495.5,396.0 1495.8,394.0 C1496.1,392.0 1496.4,390.0 1496.7,388.0 C1497.0,386.0 1497.3,384.0 1497.6,382.0 C1498.0,380.0 1498.3,378.0 1498.6,376.0 C1498.9,374.0 1499.2,372.0 1499.5,370.0 C1499.9,368.0 1500.2,366.0 1500.5,364.0 C1500.8,362.0 1501.1,360.0 1501.4,358.0 C1501.7,356.0 1502.0,354.0 1502.3,352.0 C1502.6,350.0 1502.9,348.0 1503.2,346.0 C1503.5,344.0 1503.8,342.0 1504.1,340.0 C1504.4,338.0 1504.6,336.0 1504.9,334.0 C1505.2,332.0 1505.5,330.0 1505.8,328.0 C1506.0,326.0 1506.3,324.0 1506.6,322.0 C1506.9,320.0 1507.1,318.0 1507.4,316.0 C1507.7,314.0 1507.9,312.0 1508.2,310.0 C1508.5,308.0 1508.7,306.0 1509.0,304.0 C1509.3,302.0 1509.5,300.0 1509.8,298.0 C1510.1,296.0 1510.3,294.0 1510.6,292.0 C1510.8,290.0 1511.1,288.0 1511.4,286.0 C1511.6,284.0 1511.9,282.0 1512.1,280.0 C1512.4,278.0 1512.6,276.0 1512.9,274.0 C1513.1,272.0 1513.4,270.0 1513.6,268.0 C1513.9,266.0 1514.2,264.0 1514.4,262.0 C1514.7,260.0 1514.9,258.0 1515.2,256.0 C1515.5,254.0 1515.7,252.0 1516.0,250.0 C1516.3,248.0 1516.5,246.0 1516.8,244.0 C1517.1,242.0 1517.4,240.0 1517.6,238.0 C1517.9,236.0 1518.2,234.0 1518.5,232.0 C1518.8,230.0 1519.1,228.0 1519.4,226.0 C1519.7,224.0 1520.0,222.0 1520.3,220.0 C1520.6,218.0 1520.9,216.0 1521.2,214.0 C1521.5,212.0 1521.8,210.0 1522.1,208.0 C1522.4,206.0 1522.7,204.0 1523.0,202.0 C1523.3,200.0 1523.7,198.0 1524.0,196.0 C1524.3,194.0 1524.6,192.0 1524.9,190.0 C1525.2,188.0 1525.5,186.0 1525.8,184.0 C1526.1,182.0 1526.4,180.0 1526.7,178.0 C1526.9,176.0 1527.2,174.0 1527.5,172.0 C1527.8,170.0 1528.1,168.0 1528.4,166.0 C1528.7,164.0 1528.9,162.0 1529.2,160.0 C1529.5,158.0 1529.8,156.0 1530.1,154.0 C1530.4,152.0 1530.7,150.0 1530.9,148.0 C1531.2,146.0 1531.5,144.0 1531.8,142.0 C1532.1,140.0 1532.4,138.0 1532.6,136.0 C1532.9,134.0 1533.2,132.0 1533.5,130.0 C1533.8,128.0 1534.1,126.0 1534.3,124.0 C1534.6,122.0 1534.9,120.0 1535.2,118.0 C1535.5,116.0 1535.8,114.0 1536.0,112.0 C1536.3,110.0 1536.6,108.0 1536.9,106.0 C1537.2,104.0 1537.4,102.0 1537.7,100.0 C1538.0,98.0 1538.3,96.0 1538.6,94.0 C1538.8,92.0 1539.1,90.0 1539.4,88.0 C1539.7,86.0 1539.9,84.0 1540.2,82.0 C1540.5,80.0 1540.8,78.0 1541.0,76.0 C1541.3,74.0 1541.6,72.0 1541.9,70.0 C1542.1,68.0 1542.4,66.0 1542.7,64.0 C1543.0,62.0 1543.2,60.0 1543.5,58.0 C1543.8,56.0 1544.1,54.0 1544.3,52.0 C1544.6,50.0 1544.9,48.0 1545.2,46.0 C1545.4,44.0 1545.7,42.0 1546.0,40.0 C1546.3,38.0 1546.5,36.0 1546.8,34.0 C1547.1,32.0 1547.3,30.0 1547.6,28.0 C1547.9,26.0 1548.3,23.0 1548.4,22.0" stroke="#00f" stroke-width="7.2"/>
<g><circle cx="238.9" cy="1411.8" r="16.1" fill="#fff" stroke="#00f" stroke-width="1.8"/><circle cx="380.7" cy="1081.0" r="16.1" fill="#fff" stroke="#00f" stroke-width="1.8"/><circle cx="523.6" cy="1197.5" r="16.1" fill="#fff" stroke="#00f" stroke-width="1.8"/><circle cx="666.5" cy="1106.0" r="16.1" fill="#fff" stroke="#00f" stroke-width="1.8"/><circle cx="809.4" cy="1092.0" r="16.1" fill="#fff" stroke="#00f" stroke-width="1.8"/><circle cx="952.3" cy="1084.5" r="16.1" fill="#fff" stroke="#00f" stroke-width="1.8"/><circle cx="1095.2" cy="1085.0" r="16.1" fill="#fff" stroke="#00f" stroke-width="1.8"/><circle cx="1238.1" cy="1049.5" r="16.1" fill="#fff" stroke="#00f" stroke-width="1.8"/><circle cx="1381.0" cy="856.0" r="16.1" fill="#fff" stroke="#00f" stroke-width="1.8"/><circle cx="1523.9" cy="195.5" r="16.1" fill="#fff" stroke="#00f" stroke-width="1.8"/></g>
</g>
<g>
<text transform="translate(237.3,1528) scale(1,1.03)" text-anchor="middle">0.0</text>
<text transform="translate(580.26,1528) scale(1,1.03)" text-anchor="middle">0.2</text>
<text transform="translate(923.22,1528) scale(1,1.03)" text-anchor="middle">0.4</text>
<text transform="translate(1266.18,1528) scale(1,1.03)" text-anchor="middle">0.6</text>
<text transform="translate(1609.14,1528) scale(1,1.03)" text-anchor="middle">0.8</text>
<text transform="translate(1953.85,1528) scale(1,1.03)" text-anchor="middle" dx="0 -3.5">1.0</text>
<text transform="translate(191.8,1441.5) scale(1,1.03)" text-anchor="end">0</text>
<text transform="translate(191.8,1211.5) scale(1,1.03)" text-anchor="end">5</text>
<text transform="translate(191.8,981.5) scale(1,1.03)" text-anchor="end" dx="0 -2.8">10</text>
<text transform="translate(191.8,751.5) scale(1,1.03)" text-anchor="end" dx="0 -2.8">15</text>
<text transform="translate(191.8,521.6) scale(1,1.03)" text-anchor="end">20</text>
<text transform="translate(191.8,291.6) scale(1,1.03)" text-anchor="end">25</text>
<text transform="translate(191.8,61.6) scale(1,1.03)" text-anchor="end">30</text>
<rect x="102.89" y="972.38" width="17.18" height="12.22" fill="#fff"/><rect x="128.67" y="972.38" width="16.50" height="12.22" fill="#fff"/>
<rect x="102.89" y="742.38" width="17.18" height="12.22" fill="#fff"/><rect x="128.67" y="742.38" width="16.50" height="12.22" fill="#fff"/>
<rect x="1899.78" y="1518.88" width="17.18" height="12.22" fill="#fff"/><rect x="1925.55" y="1518.88" width="16.50" height="12.22" fill="#fff"/>
<text transform="translate(1094,1666) scale(1,1.02)" text-anchor="middle" letter-spacing="-0.6">Strain</text>
<text transform="translate(63.4,726) rotate(-90) scale(1,1.02)" text-anchor="middle" letter-spacing="-0.45">Stress / (MPa)</text>
</g>
<g>
<rect x="292.9" y="75.4" width="568.7" height="323.1" fill="#fff" stroke="#000" stroke-width="2.2"/>
<line x1="304.3" y1="133.4" x2="493.9" y2="133.4" stroke="#000" stroke-width="7.2" stroke-linecap="round"/>
<rect x="384.5" y="119.0" width="28.8" height="28.8" fill="#fff" stroke="#000" stroke-width="2.0"/>
<text transform="translate(516,162.0) scale(1,1.03)" text-anchor="start" letter-spacing="-0.3" dx="0 0 1.8 -1.8">t=10mm</text>
<rect x="595.27" y="152.88" width="17.18" height="12.22" fill="#fff"/><rect x="621.04" y="152.88" width="16.50" height="12.22" fill="#fff"/>
<line x1="304.3" y1="237.1" x2="493.9" y2="237.1" stroke="#f00" stroke-width="7.2" stroke-linecap="round"/>
<polygon points="398.9,215.6 380.0,248.3 417.8,248.3" fill="#fff" stroke="#f00" stroke-width="2.0" stroke-linejoin="miter"/>
<text transform="translate(516,265.6) scale(1,1.03)" text-anchor="start" letter-spacing="-0.3">t=20mm</text>
<line x1="304.3" y1="341" x2="493.9" y2="341" stroke="#00f" stroke-width="7.2" stroke-linecap="round"/>
<circle cx="398.9" cy="341.0" r="16.1" fill="#fff" stroke="#00f" stroke-width="1.8"/>
<text transform="translate(516,369.2) scale(1,1.03)" text-anchor="start" letter-spacing="-0.3">t=30mm</text>
</g>
</svg>
</body>
</html>
